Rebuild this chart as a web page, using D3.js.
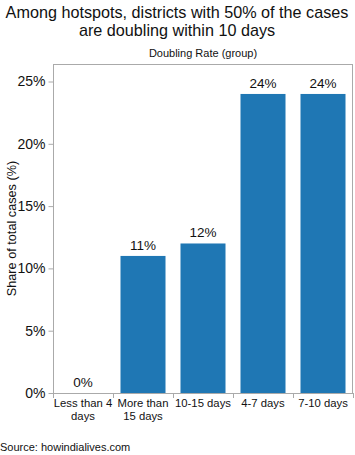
<!DOCTYPE html>
<html><head><meta charset="utf-8">
<script src="https://cdn.jsdelivr.net/npm/d3@7"></script>
<style>body{margin:0;background:#fff;font-family:"Liberation Sans",Arial,sans-serif;}</style>
</head><body>
<svg id="c" width="355" height="455"></svg>
<script>
const categories = ["Less than 4 days","More than 15 days","10-15 days","4-7 days","7-10 days"];
const categoryLines = [["Less than 4","days"],["More than","15 days"],["10-15 days"],["4-7 days"],["7-10 days"]];
const values = [0, 11, 12, 24, 24];
const yTicks = [0, 5, 10, 15, 20, 25];

const svg = d3.select("#c");
const m = {left:53, right:2, top:64, bottom:62};
const W = 355, H = 455;
const x = d3.scaleBand().domain(categories).range([m.left, W - m.right]).paddingInner(0.25).paddingOuter(0.125);
const y = d3.scaleLinear().domain([0, 25]).range([H - m.bottom, 81.5]);

// title
svg.append("text").attr("x",177).attr("y",18).attr("text-anchor","middle")
  .attr("font-size",16.2).attr("fill","#111").text("Among hotspots, districts with 50% of the cases");
svg.append("text").attr("x",177).attr("y",36).attr("text-anchor","middle")
  .attr("font-size",16.2).attr("fill","#111").text("are doubling within 10 days");
svg.append("text").attr("x",(m.left + W - m.right)/2).attr("y",57).attr("text-anchor","middle")
  .attr("font-size",11).attr("fill","#111").text("Doubling Rate (group)");

// bars
svg.selectAll("rect.bar").data(values).join("rect").attr("class","bar")
  .attr("x",(d,i)=>x(categories[i])).attr("width",x.bandwidth())
  .attr("y",d=>y(d)).attr("height",d=>y(0)-y(d)).attr("fill","#1f77b4");

svg.selectAll("text.val").data(values).join("text").attr("class","val")
  .attr("x",(d,i)=>x(categories[i])+x.bandwidth()/2).attr("y",d=>y(d)-6)
  .attr("text-anchor","middle").attr("font-size",13.5).attr("fill","#111").text(d=>d+"%");

// frame
svg.append("rect").attr("x",m.left+0.5).attr("y",m.top+0.5)
  .attr("width",W-m.right-m.left-1).attr("height",H-m.bottom-m.top)
  .attr("fill","none").attr("stroke","#aaa");

// y axis
const ya = svg.append("g").attr("transform",`translate(${m.left+0.5},0)`)
  .call(d3.axisLeft(y).tickValues(yTicks).tickFormat(d=>d+"%").tickSize(5).tickPadding(3));
ya.select(".domain").remove();
ya.selectAll("line").attr("stroke","#aaa");
ya.selectAll("text").attr("font-size",14).attr("fill","#111").attr("font-family","Liberation Sans, Arial, sans-serif");

// x axis boundary ticks
const step = x.step();
const bounds = categories.map((c,i)=>m.left + i*step).concat([W - m.right]);
svg.selectAll("line.xt").data(bounds).join("line").attr("class","xt")
  .attr("x1",d=>Math.round(d)+0.5).attr("x2",d=>Math.round(d)+0.5)
  .attr("y1",y(0)).attr("y2",y(0)+5).attr("stroke","#aaa");

categoryLines.forEach((lines,i)=>{
  const cx = x(categories[i]) + x.bandwidth()/2;
  lines.forEach((t,j)=>{
    svg.append("text").attr("x",cx).attr("y",y(0)+14+j*13).attr("text-anchor","middle")
      .attr("font-size",11.3).attr("fill","#111").text(t);
  });
});

// y title
svg.append("text").attr("transform",`translate(16,${(m.top + y(0))/2}) rotate(-90)`)
  .attr("text-anchor","middle").attr("font-size",12.7).attr("fill","#111").text("Share of total cases (%)");

// source
svg.append("text").attr("x",0).attr("y",451).attr("font-size",11).attr("fill","#111").text("Source: howindialives.com");
</script>
</body></html>
